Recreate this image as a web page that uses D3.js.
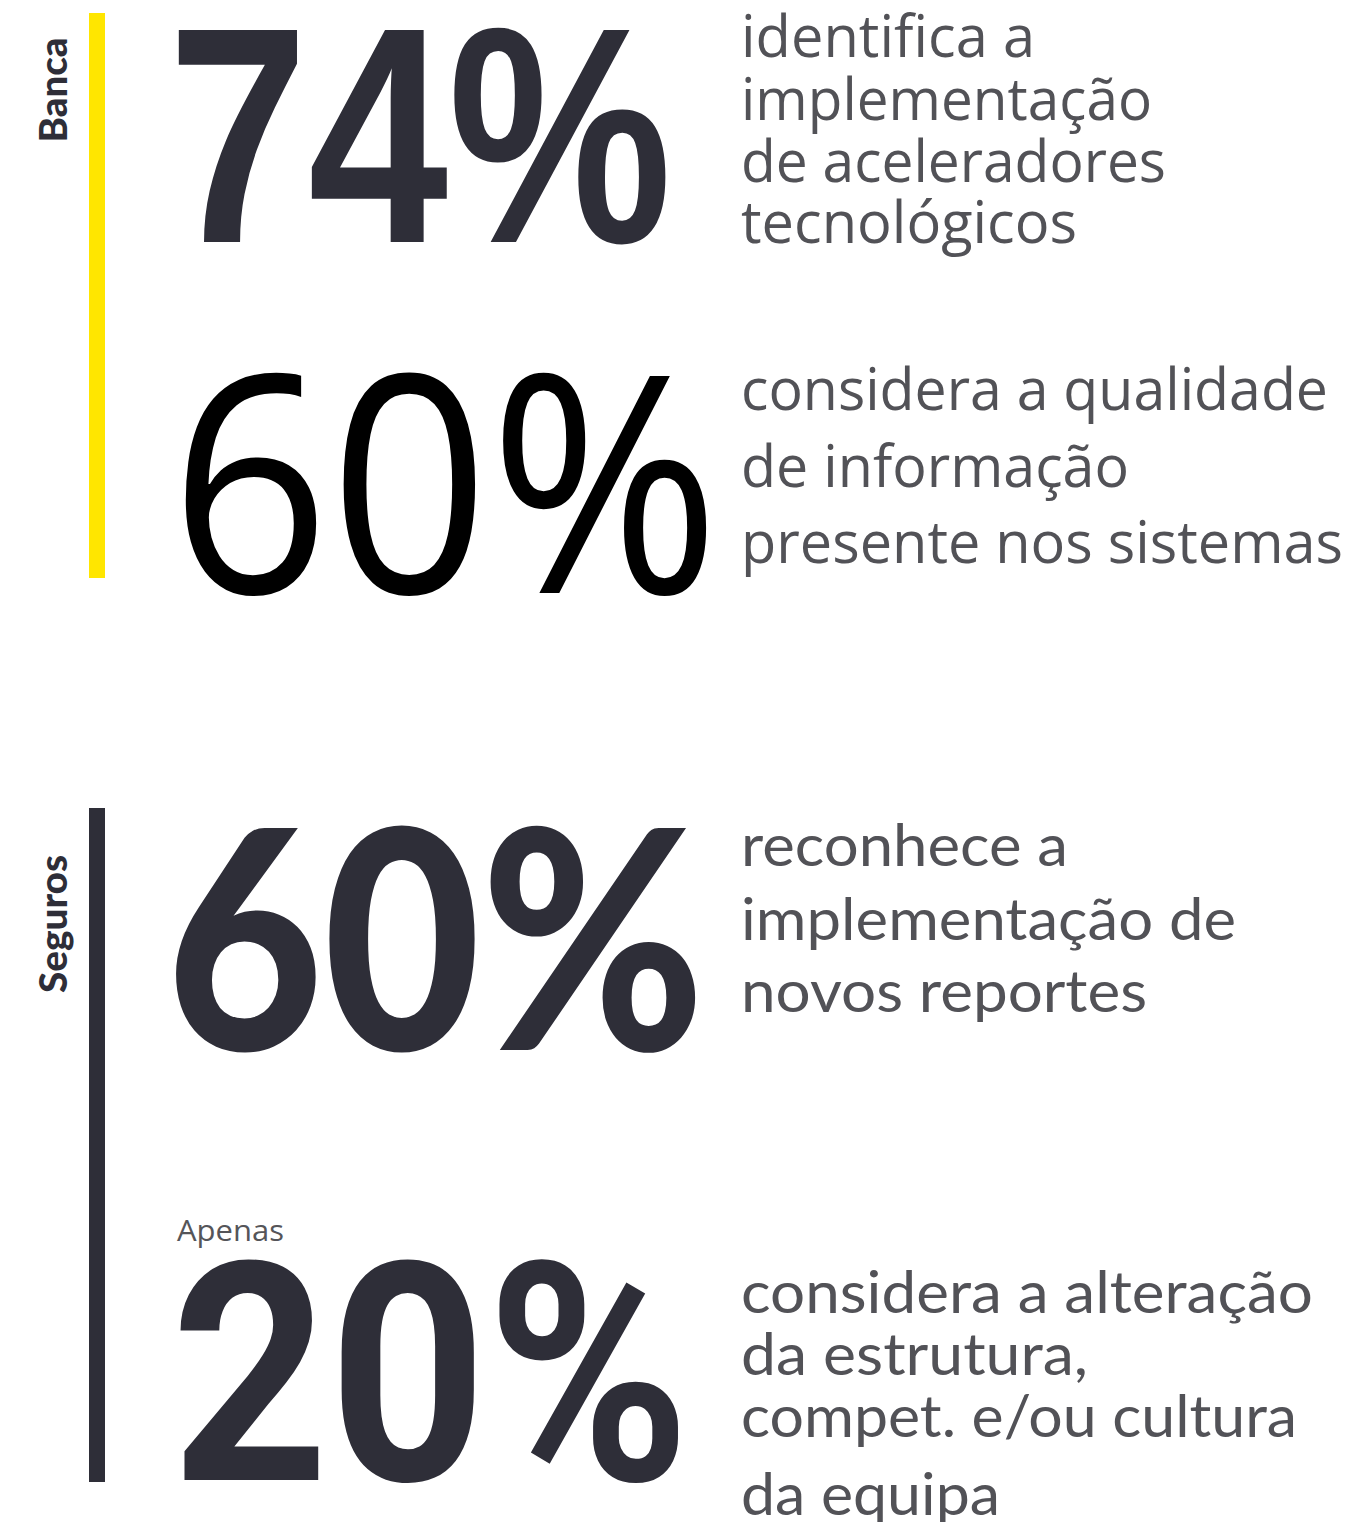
<!DOCTYPE html>
<html>
<head>
<meta charset="utf-8">
<script src="https://cdn.jsdelivr.net/npm/d3@7"></script>
<style>
  html, body { margin: 0; padding: 0; background: #ffffff; }
  svg { display: block; }
</style>
</head>
<body>
<div id="chart"></div>
<script>
// ---------- DATA ----------
const sectors = ["Banca", "Seguros"];
const sectorOfRow = ["Banca", "Banca", "Seguros", "Seguros"];
const values = [74, 60, 60, 20];
const prefixes = ["", "", "", "Apenas"];
const descriptions = [
  ["identifica a", "implementação", "de aceleradores", "tecnológicos"],
  ["considera a qualidade", "de informação", "presente nos sistemas"],
  ["reconhece a", "implementação de", "novos reportes"],
  ["considera a alteração", "da estrutura,", "compet. e/ou cultura", "da equipa"]
];

// ---------- LAYOUT / STYLE ----------
const W = 1352, H = 1522;
const dark = "#2e2e38";
const textGrey = "#525257";
const sectorColor = d3.scaleOrdinal().domain(sectors).range(["#ffe600", dark]);
const sectorSpan = { Banca: [13, 578], Seguros: [808, 1482] };
const labelCenter = { Banca: 90, Seguros: 924 };
const labelLength = { Banca: 105, Seguros: 138 };

// big numbers: baseline, font, size, weight, colour, target width
const bigStyle = [
  { base: 242, family: "Liberation Sans", size: 308, weight: 700, color: dark, x: 168, width: 504 },
  { base: 593, family: "Open Sans", size: 304, weight: 400, color: "#000000", x: 170, width: 550 },
  { base: 1050, family: "Lato", size: 306, weight: 900, color: dark, x: 166, width: 539 },
  { base: 1480, family: "Roboto", size: 306, weight: 700, color: dark, x: 171, width: 519 }
];
const descStyle = [
  { family: "Open Sans", weight: 400, size: 58, baselines: [57, 120, 182, 243], widths: [294, 411, 425, 336] },
  { family: "Open Sans", weight: 400, size: 58, baselines: [410, 487, 563], widths: [587, 388, 602] },
  { family: "Lato", weight: 400, size: 58, baselines: [866, 940, 1012], widths: [327, 495, 406] },
  { family: "Lato", weight: 400, size: 58, baselines: [1313, 1375, 1437, 1515], widths: [572, 347, 556, 259] }
];
const descX = 741;

const svg = d3.select("#chart").append("svg")
  .attr("width", W).attr("height", H)
  .attr("viewBox", `0 0 ${W} ${H}`);

const y = d3.scaleLinear().domain([0, H]).range([0, H]);

// sector bars
svg.selectAll("rect.sector")
  .data(sectors)
  .join("rect")
  .attr("class", "sector")
  .attr("x", 89)
  .attr("width", 16)
  .attr("y", d => y(sectorSpan[d][0]))
  .attr("height", d => y(sectorSpan[d][1]) - y(sectorSpan[d][0]))
  .attr("fill", d => sectorColor(d));

// sector labels (rotated)
svg.selectAll("text.sector-label")
  .data(sectors)
  .join("text")
  .attr("class", "sector-label")
  .attr("transform", d => `translate(67,${y(labelCenter[d])}) rotate(-90)`)
  .attr("text-anchor", "middle")
  .attr("font-family", "Lato, 'Open Sans', sans-serif")
  .attr("font-weight", 900)
  .attr("font-size", 38)
  .attr("fill", dark)
  .attr("textLength", d => labelLength[d])
  .attr("lengthAdjust", "spacingAndGlyphs")
  .text(d => d);

// rows
const rows = values.map((v, i) => ({ v, i, sector: sectorOfRow[i], prefix: prefixes[i], lines: descriptions[i] }));

const g = svg.selectAll("g.row").data(rows).join("g").attr("class", "row");

g.append("text")
  .attr("class", "big")
  .attr("x", d => bigStyle[d.i].x)
  .attr("y", d => y(bigStyle[d.i].base))
  .attr("font-family", d => bigStyle[d.i].family)
  .attr("font-weight", d => bigStyle[d.i].weight)
  .attr("font-size", d => bigStyle[d.i].size)
  .attr("fill", d => bigStyle[d.i].color)
  .attr("textLength", d => bigStyle[d.i].width)
  .attr("lengthAdjust", "spacingAndGlyphs")
  .text(d => d3.format("d")(d.v) + "%");

g.filter(d => d.prefix)
  .append("text")
  .attr("x", 177)
  .attr("y", y(1241))
  .attr("font-family", "Open Sans, sans-serif")
  .attr("font-size", 29)
  .attr("fill", "#555559")
  .attr("textLength", 107)
  .attr("lengthAdjust", "spacingAndGlyphs")
  .text(d => d.prefix);

g.each(function(d) {
  const st = descStyle[d.i];
  d3.select(this).selectAll("text.desc")
    .data(d.lines)
    .join("text")
    .attr("class", "desc")
    .attr("x", descX)
    .attr("y", (l, j) => y(st.baselines[j]))
    .attr("font-family", st.family)
    .attr("font-weight", st.weight)
    .attr("font-size", st.size)
    .attr("fill", textGrey)
    .attr("textLength", (l, j) => st.widths[j])
    .attr("lengthAdjust", "spacingAndGlyphs")
    .text(l => l);
});
</script>
</body>
</html>
